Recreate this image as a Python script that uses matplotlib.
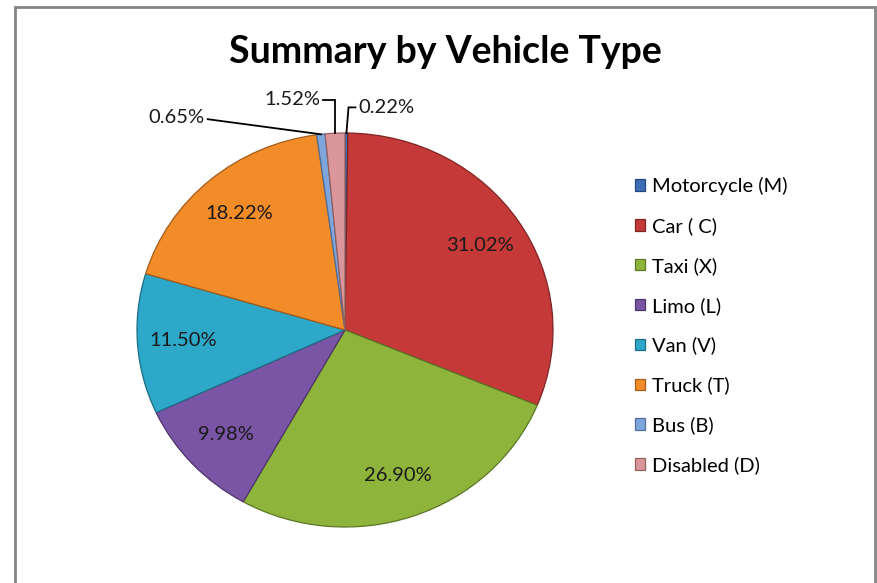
import matplotlib.pyplot as plt
import numpy as np
from matplotlib.patches import Rectangle

# Share of recorded vehicles by type
vehicle_types = ['Motorcycle (M)', 'Car ( C)', 'Taxi (X)', 'Limo (L)',
                 'Van (V)', 'Truck (T)', 'Bus (B)', 'Disabled (D)']
shares = [0.22, 31.02, 26.90, 9.98, 11.50, 18.22, 0.65, 1.52]
slice_colors = ['#3d6fb6', '#c53a38', '#8fb43c', '#7b55a5',
                '#2ea8c9', '#f28c28', '#7fa6dc', '#db969b']
edge_colors = ['#24467a', '#7e2424', '#5b7726', '#4d346b',
               '#1d6e85', '#a35c19', '#4f6e99', '#93605f']

# small slices get their labels outside with leader lines
outside = ['Motorcycle (M)', 'Bus (B)', 'Disabled (D)']

plt.rcParams['font.family'] = ['Lato', 'DejaVu Sans']

fig = plt.figure(figsize=(8.77, 5.83), dpi=100)
W, H = 877, 583

# chart-area frame
fig.patches.append(Rectangle((15 / W, -0.01), (875 - 15) / W, (583 - 7) / H + 0.01,
                             transform=fig.transFigure, fill=False,
                             edgecolor='#858585', linewidth=2))

fig.text(445 / W, 1 - 52 / H, 'Summary by Vehicle Type', ha='center', va='center',
         fontsize=27, fontweight='bold', color='#000000')

# pie axes: slightly wider than tall
ax = fig.add_axes([137 / W, 1 - 527 / H, 416 / W, 394 / H])
wedges, _ = ax.pie(shares, colors=slice_colors, startangle=90, counterclock=False,
                   radius=1.0, wedgeprops=dict(linewidth=0.9))
for w, ec in zip(wedges, edge_colors):
    w.set_edgecolor(ec)
ax.set_aspect('auto')
ax.set_xlim(-1, 1)
ax.set_ylim(-1, 1)
ax.axis('off')

label_size = 14.5

# inside labels
for w, name, val in zip(wedges, vehicle_types, shares):
    mid = np.deg2rad((w.theta1 + w.theta2) / 2)
    if name in outside:
        continue
    r = 0.78
    ax.text(r * np.cos(mid), r * np.sin(mid), f'{val:.2f}%', ha='center', va='center',
            fontsize=label_size, color='#1a1a1a')

# outside labels: (text anchor x, y, alignment)
leader = {
    'Motorcycle (M)': (0.06, 1.13, 'left'),
    'Disabled (D)': (-0.115, 1.17, 'right'),
    'Bus (B)': (-0.67, 1.08, 'right'),
}
for w, name, val in zip(wedges, vehicle_types, shares):
    if name not in outside:
        continue
    mid = np.deg2rad((w.theta1 + w.theta2) / 2)
    x0, y0 = np.cos(mid), np.sin(mid)
    tx, ty, ha = leader[name]
    if name == 'Bus (B)':
        xs, ys = [x0, tx + 0.01], [y0, ty - 0.01]
    else:
        ex = x0 + (0.01 if ha == 'left' else 0.0)
        xs = [x0, ex, tx + (-0.01 if ha == 'left' else 0.01)]
        ys = [y0, ty, ty]
    ax.plot(xs, ys, color='black', linewidth=1.3, clip_on=False, solid_joinstyle='miter')
    ax.text(tx + (0.005 if ha == 'left' else -0.005), ty, f'{val:.2f}%', ha=ha,
            va='center', fontsize=label_size, color='#1a1a1a')

fig.legend(wedges, vehicle_types, loc='upper left',
           bbox_to_anchor=(625 / W, 1 - 167 / H), frameon=False, fontsize=14.5,
           handlelength=0.5, handleheight=0.5, handletextpad=0.35,
           labelspacing=1.09, borderpad=0)

fig.savefig('out.png', dpi=100, facecolor='white')
